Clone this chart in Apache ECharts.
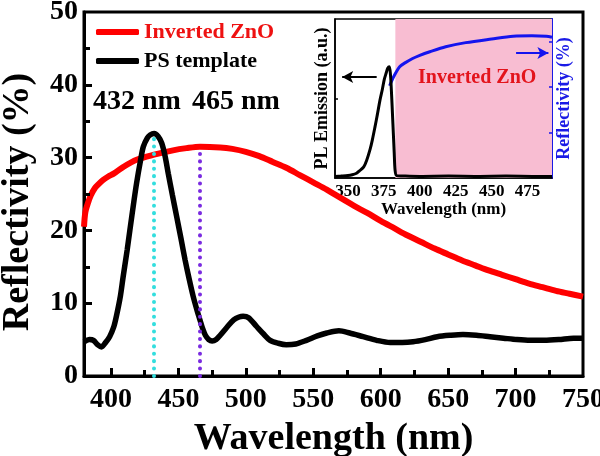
<!DOCTYPE html>
<html>
<head>
<meta charset="utf-8">
<script src="https://cdn.jsdelivr.net/npm/echarts@6/dist/echarts.min.js"></script>
<style>
html,body{margin:0;padding:0;background:#fff;}
#chart{width:600px;height:456px;}
</style>
</head>
<body>
<div id="chart"></div>
<script>
// ---- Main plot data ----
const zno_x = [380,381,383,385,388,391,394,398,402,409,419,432,446,456,466,481,490,500,510,520,530,540,550,560,570,580,590,600,610,620,630,640,650,660,670,680,690,700,710,720,730,740,750];
const zno_y = [20.5,22.5,23.8,24.8,25.8,26.4,26.9,27.4,27.8,28.7,29.7,30.4,31.0,31.3,31.5,31.4,31.2,30.8,30.2,29.4,28.6,27.6,26.6,25.6,24.5,23.4,22.4,21.3,20.3,19.3,18.4,17.5,16.7,15.9,15.2,14.5,13.9,13.3,12.7,12.2,11.7,11.3,10.9];

const ps_x = [380,384,387,390,393,396,399,402,404,407,409,412,414,417,419,422,424,427,429,432,435,437.6,440,442.5,445.5,448.7,452,455,458,461,464,466,468,470,472.5,475,478,481,486,491,495,498,502,508,513,518,524,530,537,545,553,560,569,577,587,597,607,616,624,633,642,652,661,671,681,691,701,711,721,732,743,750];
const ps_y = [4.7,5.0,4.9,4.3,4.0,4.6,5.4,6.7,8.2,11.0,13.6,17.3,20.0,24.0,26.5,29.7,31.5,32.7,33.1,33.3,32.9,32.0,30.3,27.8,24.9,21.9,18.8,15.9,13.3,10.9,8.9,7.7,6.5,5.6,5.0,4.8,5.0,5.6,6.7,7.7,8.1,8.2,8.0,6.8,5.8,4.9,4.5,4.3,4.4,4.9,5.5,5.9,6.2,5.9,5.4,4.9,4.6,4.6,4.7,5.0,5.4,5.6,5.7,5.6,5.4,5.2,5.0,4.9,4.9,5.0,5.2,5.2];

const xMajorTicks = [400,450,500,550,600,650,700,750];
const xMinorTicks = [425,475,525,575,625,675,725];
const yMajorTicks = [10,20,30,40];
const yMinorTicks = [5,15,25,35,45];
const peakLines = [[432, 33.3], [466, 31.5]];
const peakLabels = ['432 nm', '465 nm'];

// ---- Inset data ----
const pl_x = [341,345,350,353,356,358,361,363,365.4,367,368.8,370.5,372.3,374,375.3,376.6,377.7,378.8,379.6,380.4,381,381.6,382.2,382.8,383.9,390,400,420,440,460,480,492];
const pl_y = [0.01,0.012,0.015,0.02,0.03,0.045,0.07,0.11,0.18,0.24,0.32,0.40,0.49,0.56,0.62,0.66,0.69,0.70,0.65,0.52,0.40,0.28,0.16,0.05,0.015,0.012,0.01,0.012,0.01,0.012,0.01,0.01];
const refl_x = [379,382,386,390,395,400,407,418,432,450,465,478,488,492];
const refl_y = [20.3,22.4,24.5,25.4,26.3,27.0,27.8,28.9,29.8,30.6,31.2,31.3,31.2,31.0];
const insetTicks = [350,375,400,425,450,475];
const insetLeftTicks = [0.5];
const insetRightTicks = [10,20,30];
const pinkRange = [383, 492];

const pairs = (xs, ys) => xs.map((x, i) => [x, ys[i]]);
const FONT = "'Liberation Serif','Times New Roman',serif";

// axis ranges
const X0 = 380, X1 = 750, IX0 = 341, IX1 = 492;
// tick lengths expressed in data units of each axis (px / px-per-unit)
const pxX = 499 / (X1 - X0), pxY = 364 / 50;
const ipxX = 217 / (IX1 - IX0), ipxYL = 159 / 1, ipxYR = 159 / 35;

const tickStyle = {color: '#000', width: 3, type: 'solid', cap: 'butt'};
const mainTickLines = [].concat(
  xMajorTicks.filter(v => v < X1).map(v => [{coord: [v, 0], lineStyle: tickStyle}, {coord: [v, 8 / pxY]}]),
  xMinorTicks.map(v => [{coord: [v, 0], lineStyle: tickStyle}, {coord: [v, 6 / pxY]}]),
  yMajorTicks.map(v => [{coord: [X0, v], lineStyle: tickStyle}, {coord: [X0 + 8 / pxX, v]}]),
  yMinorTicks.map(v => [{coord: [X0, v], lineStyle: tickStyle}, {coord: [X0 + 6 / pxX, v]}])
);

const chart = echarts.init(document.getElementById('chart'), null, {renderer: 'canvas'});

const option = {
  animation: false,
  backgroundColor: '#fff',
  grid: [
    {left: 84, top: 12, width: 499, height: 364, show: true, borderColor: '#000', borderWidth: 3, outerBoundsMode: 'none'},
    {left: 335, top: 19, width: 217, height: 159, show: true, borderColor: '#000', borderWidth: 1.5, backgroundColor: '#fff', outerBoundsMode: 'none'}
  ],
  legend: {
    left: 96, top: 21, orient: 'vertical', itemGap: 7, padding: 0,
    icon: 'roundRect', itemWidth: 43, itemHeight: 6,
    textStyle: {fontFamily: FONT, fontWeight: 'bold', fontSize: 22},
    data: [
      {name: 'Inverted ZnO', textStyle: {color: '#ee1111'}},
      {name: 'PS template', textStyle: {color: '#000'}}
    ],
    selectedMode: false
  },
  xAxis: [
    {
      gridIndex: 0, type: 'value', min: X0, max: X1, position: 'bottom',
      name: 'Wavelength (nm)', nameLocation: 'middle', nameGap: 44,
      nameTextStyle: {fontFamily: FONT, fontWeight: 'bold', fontSize: 38, color: '#000'},
      axisLine: {show: true, lineStyle: {color: '#000', width: 3}},
      axisTick: {show: false},
      axisLabel: {show: true, margin: 10, fontFamily: FONT, fontWeight: 'bold', fontSize: 28, color: '#000', customValues: xMajorTicks},
      splitLine: {show: false}
    },
    {
      gridIndex: 1, type: 'value', min: IX0, max: IX1, position: 'bottom',
      name: 'Wavelength (nm)', nameLocation: 'middle', nameGap: 18,
      nameTextStyle: {fontFamily: FONT, fontWeight: 'bold', fontSize: 17, color: '#000'},
      axisLine: {show: true, lineStyle: {color: '#000', width: 1.5}},
      axisTick: {show: false},
      axisLabel: {show: true, margin: 5, fontFamily: FONT, fontWeight: 'bold', fontSize: 17, color: '#000', customValues: insetTicks},
      splitLine: {show: false}
    }
  ],
  yAxis: [
    {
      gridIndex: 0, type: 'value', min: 0, max: 50, interval: 10, position: 'left',
      axisLine: {show: true, lineStyle: {color: '#000', width: 3}},
      axisTick: {show: false},
      axisLabel: {show: true, margin: 6, fontFamily: FONT, fontWeight: 'bold', fontSize: 28, color: '#000'},
      splitLine: {show: false}
    },
    {
      gridIndex: 1, type: 'value', min: 0, max: 1, interval: 0.5, position: 'left',
      name: 'PL Emission (a.u.)', nameLocation: 'middle', nameGap: 4, nameRotate: 90,
      nameTextStyle: {fontFamily: FONT, fontWeight: 'bold', fontSize: 18, color: '#000'},
      axisLine: {show: true, lineStyle: {color: '#000', width: 1.5}},
      axisTick: {show: false},
      axisLabel: {show: false},
      splitLine: {show: false}
    },
    {
      gridIndex: 1, type: 'value', min: 0, max: 35, interval: 10, position: 'right',
      name: 'Reflectivity (%)', nameLocation: 'middle', nameGap: 3, nameRotate: 90,
      nameTextStyle: {fontFamily: FONT, fontWeight: 'bold', fontSize: 18, color: '#1a1ae6'},
      axisLine: {show: true, lineStyle: {color: '#1a1ae6', width: 2}},
      axisTick: {show: false},
      axisLabel: {show: false},
      splitLine: {show: false}
    }
  ],
  graphic: [
    {type: 'text', x: 18, y: 202, rotation: Math.PI / 2,
     style: {text: 'Reflectivity (%)', font: "bold 38px " + FONT, fill: '#000', align: 'center', verticalAlign: 'middle'}},
    {type: 'text', left: 93, top: 88, style: {text: peakLabels[0], font: "bold 28px " + FONT, fill: '#000'}},
    {type: 'text', left: 192, top: 88, style: {text: peakLabels[1], font: "bold 28px " + FONT, fill: '#000'}},
    {type: 'text', left: 418, top: 68, z: 100, style: {text: 'Inverted ZnO', font: "bold 20px " + FONT, fill: '#e3141c'}}
  ],
  series: [
    {
      name: 'Inverted ZnO', type: 'line', xAxisIndex: 0, yAxisIndex: 0,
      data: pairs(zno_x, zno_y), showSymbol: false, smooth: 0.3,
      lineStyle: {color: '#ff0000', width: 6}, itemStyle: {color: '#ff0000'}, z: 3
    },
    {
      name: 'PS template', type: 'line', xAxisIndex: 0, yAxisIndex: 0,
      data: pairs(ps_x, ps_y), showSymbol: false, smooth: 0.3,
      lineStyle: {color: '#000', width: 5.5}, itemStyle: {color: '#000'}, z: 4,
      markLine: {
        silent: true, symbol: ['none', 'none'], label: {show: false}, z: 5,
        data: [
          [{coord: [peakLines[0][0], 0], lineStyle: {color: '#33dede', width: 4, type: [0.1, 7.3], cap: 'round'}}, {coord: [peakLines[0][0], peakLines[0][1]]}],
          [{coord: [peakLines[1][0], 0], lineStyle: {color: '#7a2be0', width: 4, type: [0.1, 7.3], cap: 'round'}}, {coord: [peakLines[1][0], peakLines[1][1]]}]
        ].concat(mainTickLines)
      }
    },
    {
      name: 'PL', type: 'line', xAxisIndex: 1, yAxisIndex: 1,
      data: pairs(pl_x, pl_y), showSymbol: false, smooth: 0.3,
      lineStyle: {color: '#000', width: 3}, z: 12,
      markLine: {
        silent: true, symbol: ['none', 'arrow'], symbolSize: [9, 11], label: {show: false},
        lineStyle: {color: '#000', width: 2, type: 'solid'},
        data: [[{coord: [370, 0.635]}, {coord: [346, 0.635]}]].concat(
          insetLeftTicks.map(v => [{coord: [IX0, v], symbol: 'none', lineStyle: {color: '#000', width: 1.5}}, {coord: [IX0 + 3 / ipxX, v], symbol: 'none'}])
        )
      }
    },
    {
      name: 'Refl', type: 'line', xAxisIndex: 1, yAxisIndex: 2,
      data: pairs(refl_x, refl_y), showSymbol: false, smooth: 0.3,
      lineStyle: {color: '#1414ee', width: 3}, z: 11,
      markArea: {
        silent: true, itemStyle: {color: '#f8bdd2'},
        data: [[{xAxis: pinkRange[0], yAxis: 0}, {xAxis: pinkRange[1], yAxis: 35}]]
      },
      markLine: {
        silent: true, symbol: ['none', 'arrow'], symbolSize: [9, 11], label: {show: false},
        lineStyle: {color: '#1414ee', width: 2, type: 'solid'},
        data: [[{coord: [467, 27.5]}, {coord: [489.5, 27.5]}]].concat(
          insetRightTicks.map(v => [{coord: [IX1 - 3 / ipxX, v], symbol: 'none', lineStyle: {color: '#1414ee', width: 1.5}}, {coord: [IX1, v], symbol: 'none'}])
        )
      }
    }
  ]
};
chart.setOption(option);
</script>
</body>
</html>
